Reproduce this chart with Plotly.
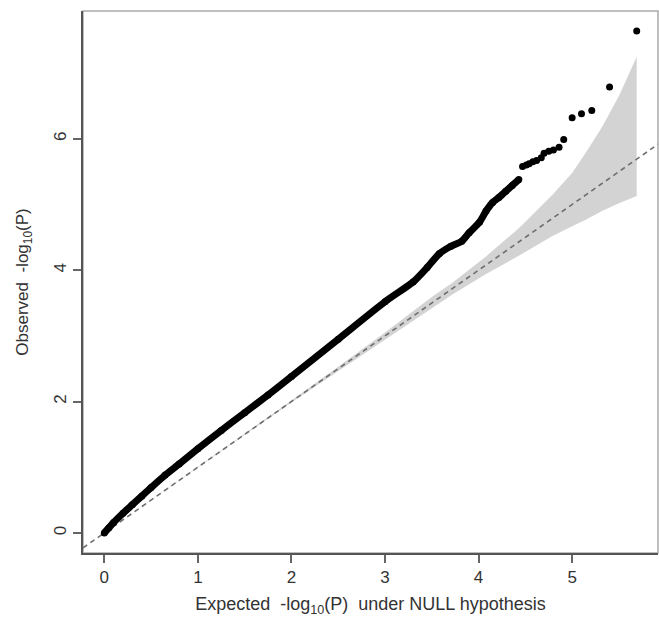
import plotly.graph_objects as go

# Observed vs expected (-log10 P), dense main curve
curve_expected = [0.0, 0.05, 0.1, 0.2, 0.3, 0.4, 0.5, 0.65, 0.8, 1.0, 1.25, 1.5, 1.75, 2.0,
                  2.5, 3.0, 3.3, 3.45, 3.58, 3.7, 3.82, 3.9, 4.01, 4.08, 4.15, 4.22, 4.29, 4.36, 4.43]
curve_observed = [0.0, 0.08, 0.16, 0.30, 0.43, 0.56, 0.69, 0.88, 1.05, 1.28, 1.56, 1.83, 2.10, 2.38,
                  2.95, 3.52, 3.82, 4.04, 4.25, 4.36, 4.44, 4.57, 4.73, 4.90, 5.03, 5.11, 5.20, 5.29, 5.38]

# Individual tail points
tail_expected = [4.47, 4.51, 4.54, 4.58, 4.62, 4.67, 4.70, 4.75, 4.80, 4.86, 4.91, 5.00, 5.10, 5.21, 5.40, 5.69]
tail_observed = [5.58, 5.60, 5.62, 5.65, 5.67, 5.71, 5.78, 5.81, 5.83, 5.87, 5.99, 6.32, 6.38, 6.43, 6.79, 7.64]

# 95% confidence band
band_expected = [0.0, 1.0, 2.0, 2.5, 3.0, 3.5, 3.72, 4.08, 4.43, 4.79, 5.0, 5.15, 5.32, 5.5, 5.69]
band_upper = [0.0, 1.003, 2.015, 2.53, 3.05, 3.59, 3.81, 4.21, 4.64, 5.15, 5.48, 5.80, 6.18, 6.65, 7.25]
band_lower = [0.0, 0.997, 1.985, 2.47, 2.95, 3.42, 3.63, 3.94, 4.22, 4.52, 4.67, 4.77, 4.90, 5.02, 5.13]

x_ticks = [0, 1, 2, 3, 4, 5]
y_ticks = [0, 2, 4, 6]

x_title = "Expected  -log<sub>10</sub>(P)  under NULL hypothesis"
y_title = "Observed  -log<sub>10</sub>(P)"

# R-style 4% axis extension
all_x = curve_expected + tail_expected
all_y = curve_observed + tail_observed
xmin, xmax = min(all_x), max(all_x)
ymin, ymax = min(all_y), max(all_y)
xr = [xmin - 0.04 * (xmax - xmin), xmax + 0.04 * (xmax - xmin)]
yr = [ymin - 0.04 * (ymax - ymin), ymax + 0.04 * (ymax - ymin)]

fig = go.Figure()

fig.add_trace(go.Scatter(
    x=band_expected + band_expected[::-1],
    y=band_upper + band_lower[::-1],
    fill="toself", fillcolor="#d3d3d3", line=dict(width=0),
    mode="lines", hoverinfo="skip", showlegend=False))

lo = max(xr[0], yr[0])
hi = min(xr[1], yr[1])
fig.add_trace(go.Scatter(
    x=[lo, hi], y=[lo, hi], mode="lines",
    line=dict(color="#6e6e6e", width=1.6, dash="5px,4px"),
    showlegend=False))

fig.add_trace(go.Scatter(
    x=curve_expected, y=curve_observed, mode="lines+markers",
    line=dict(color="black", width=7, shape="spline", smoothing=0.6),
    marker=dict(color="black", size=7),
    showlegend=False))

fig.add_trace(go.Scatter(
    x=tail_expected, y=tail_observed, mode="markers",
    marker=dict(color="black", size=7),
    showlegend=False))

font = dict(family="Liberation Sans, Arial, sans-serif", size=17, color="#333333")

fig.update_layout(
    width=659, height=618,
    margin=dict(l=83, r=1, t=11, b=65),
    paper_bgcolor="white", plot_bgcolor="white",
    font=font,
    shapes=[dict(type="rect", xref="paper", yref="paper", x0=0, y0=0, x1=1, y1=1,
                 line=dict(color="#aaaaaa", width=1.5), layer="below")],
)

fig.update_xaxes(
    range=xr, tickvals=x_ticks, ticktext=[str(v) for v in x_ticks],
    showgrid=False, zeroline=False,
    showline=True, linecolor="#555555", linewidth=2,
    ticks="outside", ticklen=8, tickcolor="#666666", tickwidth=1.5,
    tickfont=dict(size=17, color="#333333"),
    title=dict(text=x_title, font=dict(size=18, color="#333333"), standoff=11),
)
fig.update_yaxes(
    range=yr, tickvals=y_ticks, ticktext=[str(v) for v in y_ticks],
    showgrid=False, zeroline=False,
    showline=True, linecolor="#555555", linewidth=2,
    ticks="outside", ticklen=8, tickcolor="#666666", tickwidth=1.5,
    tickangle=-90,
    tickfont=dict(size=17, color="#333333"),
    title=dict(text=y_title, font=dict(size=17, color="#333333"), standoff=18),
)

fig.write_html("out.html")
